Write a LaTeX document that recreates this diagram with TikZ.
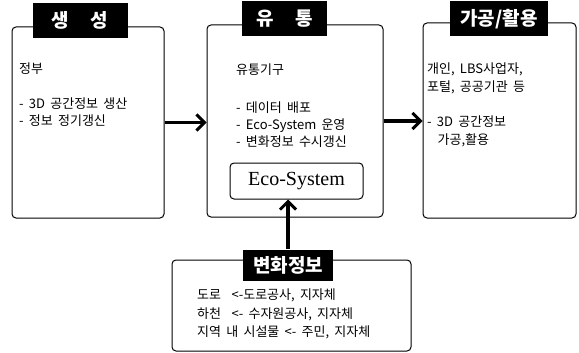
\documentclass[tikz,border=0pt]{standalone}
\usepackage{fontspec}
\setmainfont{Noto Sans CJK KR}[WordSpace=1.8]
\newfontfamily\ecofont{Liberation Serif}
\usetikzlibrary{arrows.meta}
\begin{document}
\begin{tikzpicture}[x=1pt, y=-1pt,
  panel/.style={draw, line width=1pt, rounded corners=4pt, fill=white},
  title/.style={fill=black, text=white, font=\fontsize{19}{21}\selectfont\bfseries, inner sep=0pt, minimum height=35pt},
  body/.style={anchor=north west, align=left, inner sep=0pt, font=\fontsize{13}{17}\selectfont},
  flow/.style={line width=3.4pt, -{Straight Barb[length=8pt, width=16pt, line width=3pt]}}]
\useasboundingbox (0,0) rectangle (579,353);
% three stages
\node[panel, minimum width=152pt, minimum height=191pt] (gen) at (88,122.5){};
\node[panel, minimum width=176pt, minimum height=192pt] (dist) at (295,121){};
\node[panel, minimum width=153pt, minimum height=195pt] (use) at (499.5,120.5){};
\node[title, minimum width=95pt] (tgen) at (80,20.5){생\hspace{22pt}성};
\node[title, minimum width=85pt] (tdist) at (284.5,19){유\hspace{22pt}통};
\node[title, minimum width=98pt] (tuse) at (499,19){가공/활용};
% texts
\node[body] (sgen) at (19,63){정부\\[18pt]- 3D 공간정보 생산\\- 정보 정기갱신};
\node[body] (sdist) at (236,64){유통기구\\[21pt]- 데이터 배포\\- Eco-System 운영\\- 변화정보 수시갱신};
\node[body, font=\fontsize{13}{18}\selectfont] (suse) at (427,63){개인, LBS사업자,\\포털, 공공기관 등\\[17pt]- 3D 공간정보\\\ \ 가공,활용};
\node[panel, minimum width=133pt, minimum height=36pt, font=\ecofont\fontsize{20}{22}\selectfont] (eco) at (296.5,181){Eco-System};
% change information
\node[panel, minimum width=239pt, minimum height=91pt] (chg) at (291.5,305.5){};
\node[title, minimum width=90pt, minimum height=31pt] (tchg) at (288,265){변화정보};
\node[body, font=\fontsize{13}{18.5}\selectfont] (schg) at (197,289){도로 \ <-도로공사, 지자체\\하천 \ <- 수자원공사, 지자체\\지역 내 시설물 <- 주민, 지자체};
% arrows
\draw[flow] (gen.east) -- (gen.east -| dist.west);
\draw[flow] (dist.east) -- (dist.east -| use.west);
\draw[flow] (tchg.north) -- (tchg.north |- eco.south);
\end{tikzpicture}
\end{document}
